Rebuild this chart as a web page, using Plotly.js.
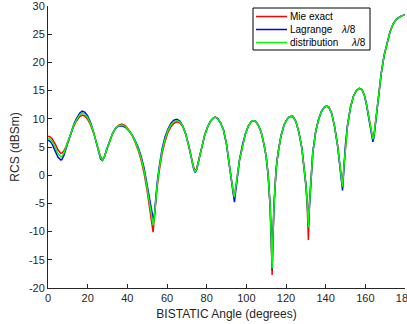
<!DOCTYPE html>
<html>
<head>
<meta charset="utf-8">
<script src="https://cdn.plot.ly/plotly-3.0.1.min.js"></script>
<style>html,body{margin:0;padding:0;background:#fff;overflow:hidden;}#chart{width:407px;height:324px;}</style>
</head>
<body>
<div id="chart"></div>
<script>
// Bistatic angle (degrees)
const angle = [0,1,2,3,4,5,6,6.5,7,8,9,10,11,12,13,14,15,16,17.2,18.5,20,21.5,23,24.5,25.5,26.5,27.5,28.5,29.5,31,32.5,34,35.5,37.2,39,41,42.5,44,45.5,47,48.5,50,51,52,52.5,53,53.5,54,55,56,57.5,59,60.5,62,63.5,65,66.5,68,69.5,71,72.5,73.5,74.2,75,76,77.5,79,80.5,82,83.5,84.3,85.5,87,88.5,90,91.5,92.5,93.5,94,94.5,95.5,96.5,98,99.5,101,102.5,103.5,104.5,106,107.5,109,110,111,112,112.6,113,113.4,114,115,116,117.5,119,120.5,121.5,122.5,123.5,125,126.5,128,129,130,130.7,131.3,131.8,132.5,133.5,135,136.5,138,139.3,140.4,141.5,143,144.5,146,147,147.8,148.5,149.2,150,151,152.5,154,155.5,157,158.3,159.5,160.5,161.5,162.5,163.3,163.8,164.3,165,166,167,168,169.5,171,172.5,174,175.5,177,178.5,180];

// Mie exact (dBsm)
const mieExact = [6.9,6.8,6.5,6.0,5.3,4.5,3.95,3.85,3.9,4.3,5.0,6.0,7.0,7.9,8.7,9.4,9.95,10.4,10.65,10.5,9.9,8.9,7.5,5.8,4.5,3.3,2.8,3.3,4.4,6.0,7.3,8.3,8.85,9.05,8.8,7.9,7.0,5.8,4.4,2.6,0.3,-2.8,-5.3,-8.0,-9.3,-10.1,-8.0,-5.5,-2.2,0.6,3.8,6.0,7.6,8.6,9.2,9.45,9.3,8.6,7.2,5.2,2.8,1.3,0.7,1.2,2.7,5.1,7.1,8.6,9.6,10.15,10.3,10.1,9.3,8.0,5.5,1.6,-1.0,-3.2,-3.9,-2.8,0.0,2.6,5.3,7.3,8.7,9.5,9.65,9.6,8.9,7.6,5.3,3.3,0.0,-5.5,-12.0,-17.7,-11.5,-5.0,1.0,4.0,7.0,8.9,9.9,10.3,10.45,10.4,9.5,7.6,4.8,2.0,-1.8,-5.5,-11.5,-5.0,-1.0,4.0,7.8,10.0,11.4,12.05,12.25,12.1,11.0,8.6,5.3,2.2,-0.5,-2.2,1.5,5.5,8.8,12.0,14.0,15.0,15.4,15.2,14.2,12.7,10.6,8.4,6.9,6.4,6.9,9.0,12.2,15.0,18.0,21.3,23.7,25.5,26.8,27.6,28.0,28.3,28.4];

// Lagrange lambda/8 (dBsm)
const lagrange = [6.2,6.0,5.6,4.9,4.0,3.2,2.75,2.7,2.8,3.5,4.6,5.8,7.0,8.1,9.0,9.8,10.5,11.0,11.35,11.2,10.5,9.3,7.6,5.6,4.1,2.9,2.6,3.3,4.5,6.1,7.4,8.3,8.7,8.75,8.5,7.8,7.1,6.1,4.9,3.3,1.2,-1.8,-4.0,-6.2,-7.2,-7.7,-7.6,-5.0,-1.5,1.3,4.6,6.8,8.2,9.2,9.75,9.9,9.6,8.7,7.2,5.1,2.6,1.0,0.5,1.0,2.6,5.1,7.1,8.6,9.6,10.15,10.3,10.1,9.3,8.0,5.5,1.6,-1.0,-3.8,-4.8,-3.2,0.0,2.6,5.3,7.3,8.7,9.5,9.65,9.6,8.9,7.6,5.3,3.3,0.0,-5.5,-11.5,-16.8,-11.0,-5.0,1.0,4.0,7.0,8.9,9.9,10.3,10.45,10.4,9.5,7.6,4.8,2.0,-1.5,-4.8,-8.9,-5.8,-1.0,4.0,7.8,10.0,11.4,12.05,12.25,12.1,11.0,8.6,5.3,2.2,-0.8,-2.7,1.2,5.5,8.8,12.0,14.0,15.0,15.4,15.2,14.2,12.7,10.6,8.4,6.5,5.9,6.6,9.0,12.2,15.0,18.0,21.3,23.7,25.5,26.8,27.6,28.0,28.3,28.4];

// distribution lambda/8 (dBsm)
const distribution = [6.5,6.4,6.05,5.45,4.65,3.85,3.35,3.25,3.35,3.9,4.85,5.9,7.0,8.0,8.85,9.6,10.2,10.7,11.05,10.85,10.2,9.1,7.55,5.7,4.3,3.1,2.7,3.3,4.45,6.05,7.35,8.3,8.78,8.9,8.65,7.85,7.05,5.95,4.65,2.95,0.75,-2.3,-4.6,-7.1,-8.3,-8.9,-7.9,-5.3,-1.9,1.0,4.2,6.4,7.95,8.95,9.5,9.7,9.45,8.65,7.2,5.15,2.7,1.15,0.6,1.1,2.65,5.1,7.1,8.6,9.6,10.15,10.3,10.1,9.3,8.0,5.5,1.6,-1.0,-3.2,-3.9,-2.8,0.0,2.6,5.3,7.3,8.7,9.5,9.65,9.6,8.9,7.6,5.3,3.3,0.0,-5.5,-11.5,-16.6,-11.0,-5.0,1.0,4.0,7.0,8.9,9.9,10.3,10.45,10.4,9.5,7.6,4.8,2.0,-1.6,-5.0,-9.2,-5.5,-1.0,4.0,7.8,10.0,11.4,12.05,12.25,12.1,11.0,8.6,5.3,2.2,-0.5,-2.1,1.5,5.5,8.8,12.0,14.0,15.0,15.4,15.2,14.2,12.7,10.6,8.4,6.9,6.4,6.9,9.0,12.2,15.0,18.0,21.3,23.7,25.5,26.8,27.6,28.0,28.3,28.4];

const seriesNames = ['Mie exact', 'Lagrange', 'distribution'];
const seriesSuffix = ['', '<i>\u03bb</i>/8', '<i>\u03bb</i>/8'];
const seriesColors = ['#ff0000', '#0000ff', '#00ff00'];
const xTicks = [0,20,40,60,80,100,120,140,160,180];
const yTicks = [-20,-15,-10,-5,0,5,10,15,20,25,30];

const fontFam = '"Liberation Sans", Arial, Helvetica, sans-serif';
const axisCol = '#262626';

const W = 407, H = 324;
const M = {l: 48, r: 2, t: 6, b: 36};
const PW = W - M.l - M.r, PH = H - M.t - M.b;
const px2x = p => (p - M.l) / PW;
const px2y = p => (H - M.b - p) / PH;

const seriesY = [mieExact, lagrange, distribution];
const traces = seriesY.map((ys, i) => ({
  x: angle, y: ys, name: seriesNames[i], type: 'scatter', mode: 'lines',
  line: {color: seriesColors[i], width: 1.5}, showlegend: false
}));

// Legend drawn as a boxed key (MATLAB style)
const legBox = {x0: 253, x1: 370, y0: 8, y1: 50};
const rowY = [16.5, 29.5, 42.5];
const suffixX = [0, 340, 350];
const shapes = [{
  type: 'rect', xref: 'paper', yref: 'paper',
  x0: px2x(legBox.x0), x1: px2x(legBox.x1), y0: px2y(legBox.y1), y1: px2y(legBox.y0),
  line: {color: '#000000', width: 1}, fillcolor: '#ffffff', layer: 'above'
}];
const annotations = [];
seriesNames.forEach((nm, i) => {
  shapes.push({
    type: 'line', xref: 'paper', yref: 'paper',
    x0: px2x(256), x1: px2x(287), y0: px2y(rowY[i]), y1: px2y(rowY[i]),
    line: {color: seriesColors[i], width: 1.5}, layer: 'above'
  });
  annotations.push({
    xref: 'paper', yref: 'paper', x: px2x(289), y: px2y(rowY[i]),
    xanchor: 'left', yanchor: 'middle', showarrow: false, text: nm,
    font: {family: fontFam, size: 10, color: '#000000'}, borderpad: 0
  });
  if (seriesSuffix[i]) {
    annotations.push({
      xref: 'paper', yref: 'paper', x: px2x(suffixX[i]), y: px2y(rowY[i]),
      xanchor: 'left', yanchor: 'middle', showarrow: false, text: seriesSuffix[i],
      font: {family: fontFam, size: 10, color: '#000000'}, borderpad: 0
    });
  }
});

const layout = {
  width: W, height: H,
  margin: M,
  paper_bgcolor: '#ffffff', plot_bgcolor: '#ffffff',
  font: {family: fontFam, size: 11, color: axisCol},
  showlegend: false,
  shapes: shapes,
  annotations: annotations,
  xaxis: {
    range: [0, 180], tickvals: xTicks, ticktext: xTicks.map(String),
    ticks: 'inside', ticklen: 4, tickcolor: axisCol, tickwidth: 1,
    showline: true, linecolor: axisCol, linewidth: 1, mirror: false,
    showgrid: false, zeroline: false, ticklabeloverflow: 'allow',
    tickfont: {size: 11, color: axisCol},
    title: {text: 'BISTATIC Angle (degrees)', font: {size: 12, color: axisCol}, standoff: 6}
  },
  yaxis: {
    range: [-20, 30], tickvals: yTicks, ticktext: yTicks.map(String),
    ticks: 'inside', ticklen: 4, tickcolor: axisCol, tickwidth: 1,
    showline: true, linecolor: axisCol, linewidth: 1, mirror: false,
    showgrid: false, zeroline: false, ticklabeloverflow: 'allow',
    tickfont: {size: 11, color: axisCol},
    title: {text: 'RCS (dBSm)', font: {size: 12, color: axisCol}, standoff: 6}
  }
};

Plotly.newPlot('chart', traces, layout, {staticPlot: true, displayModeBar: false});
</script>
</body>
</html>
